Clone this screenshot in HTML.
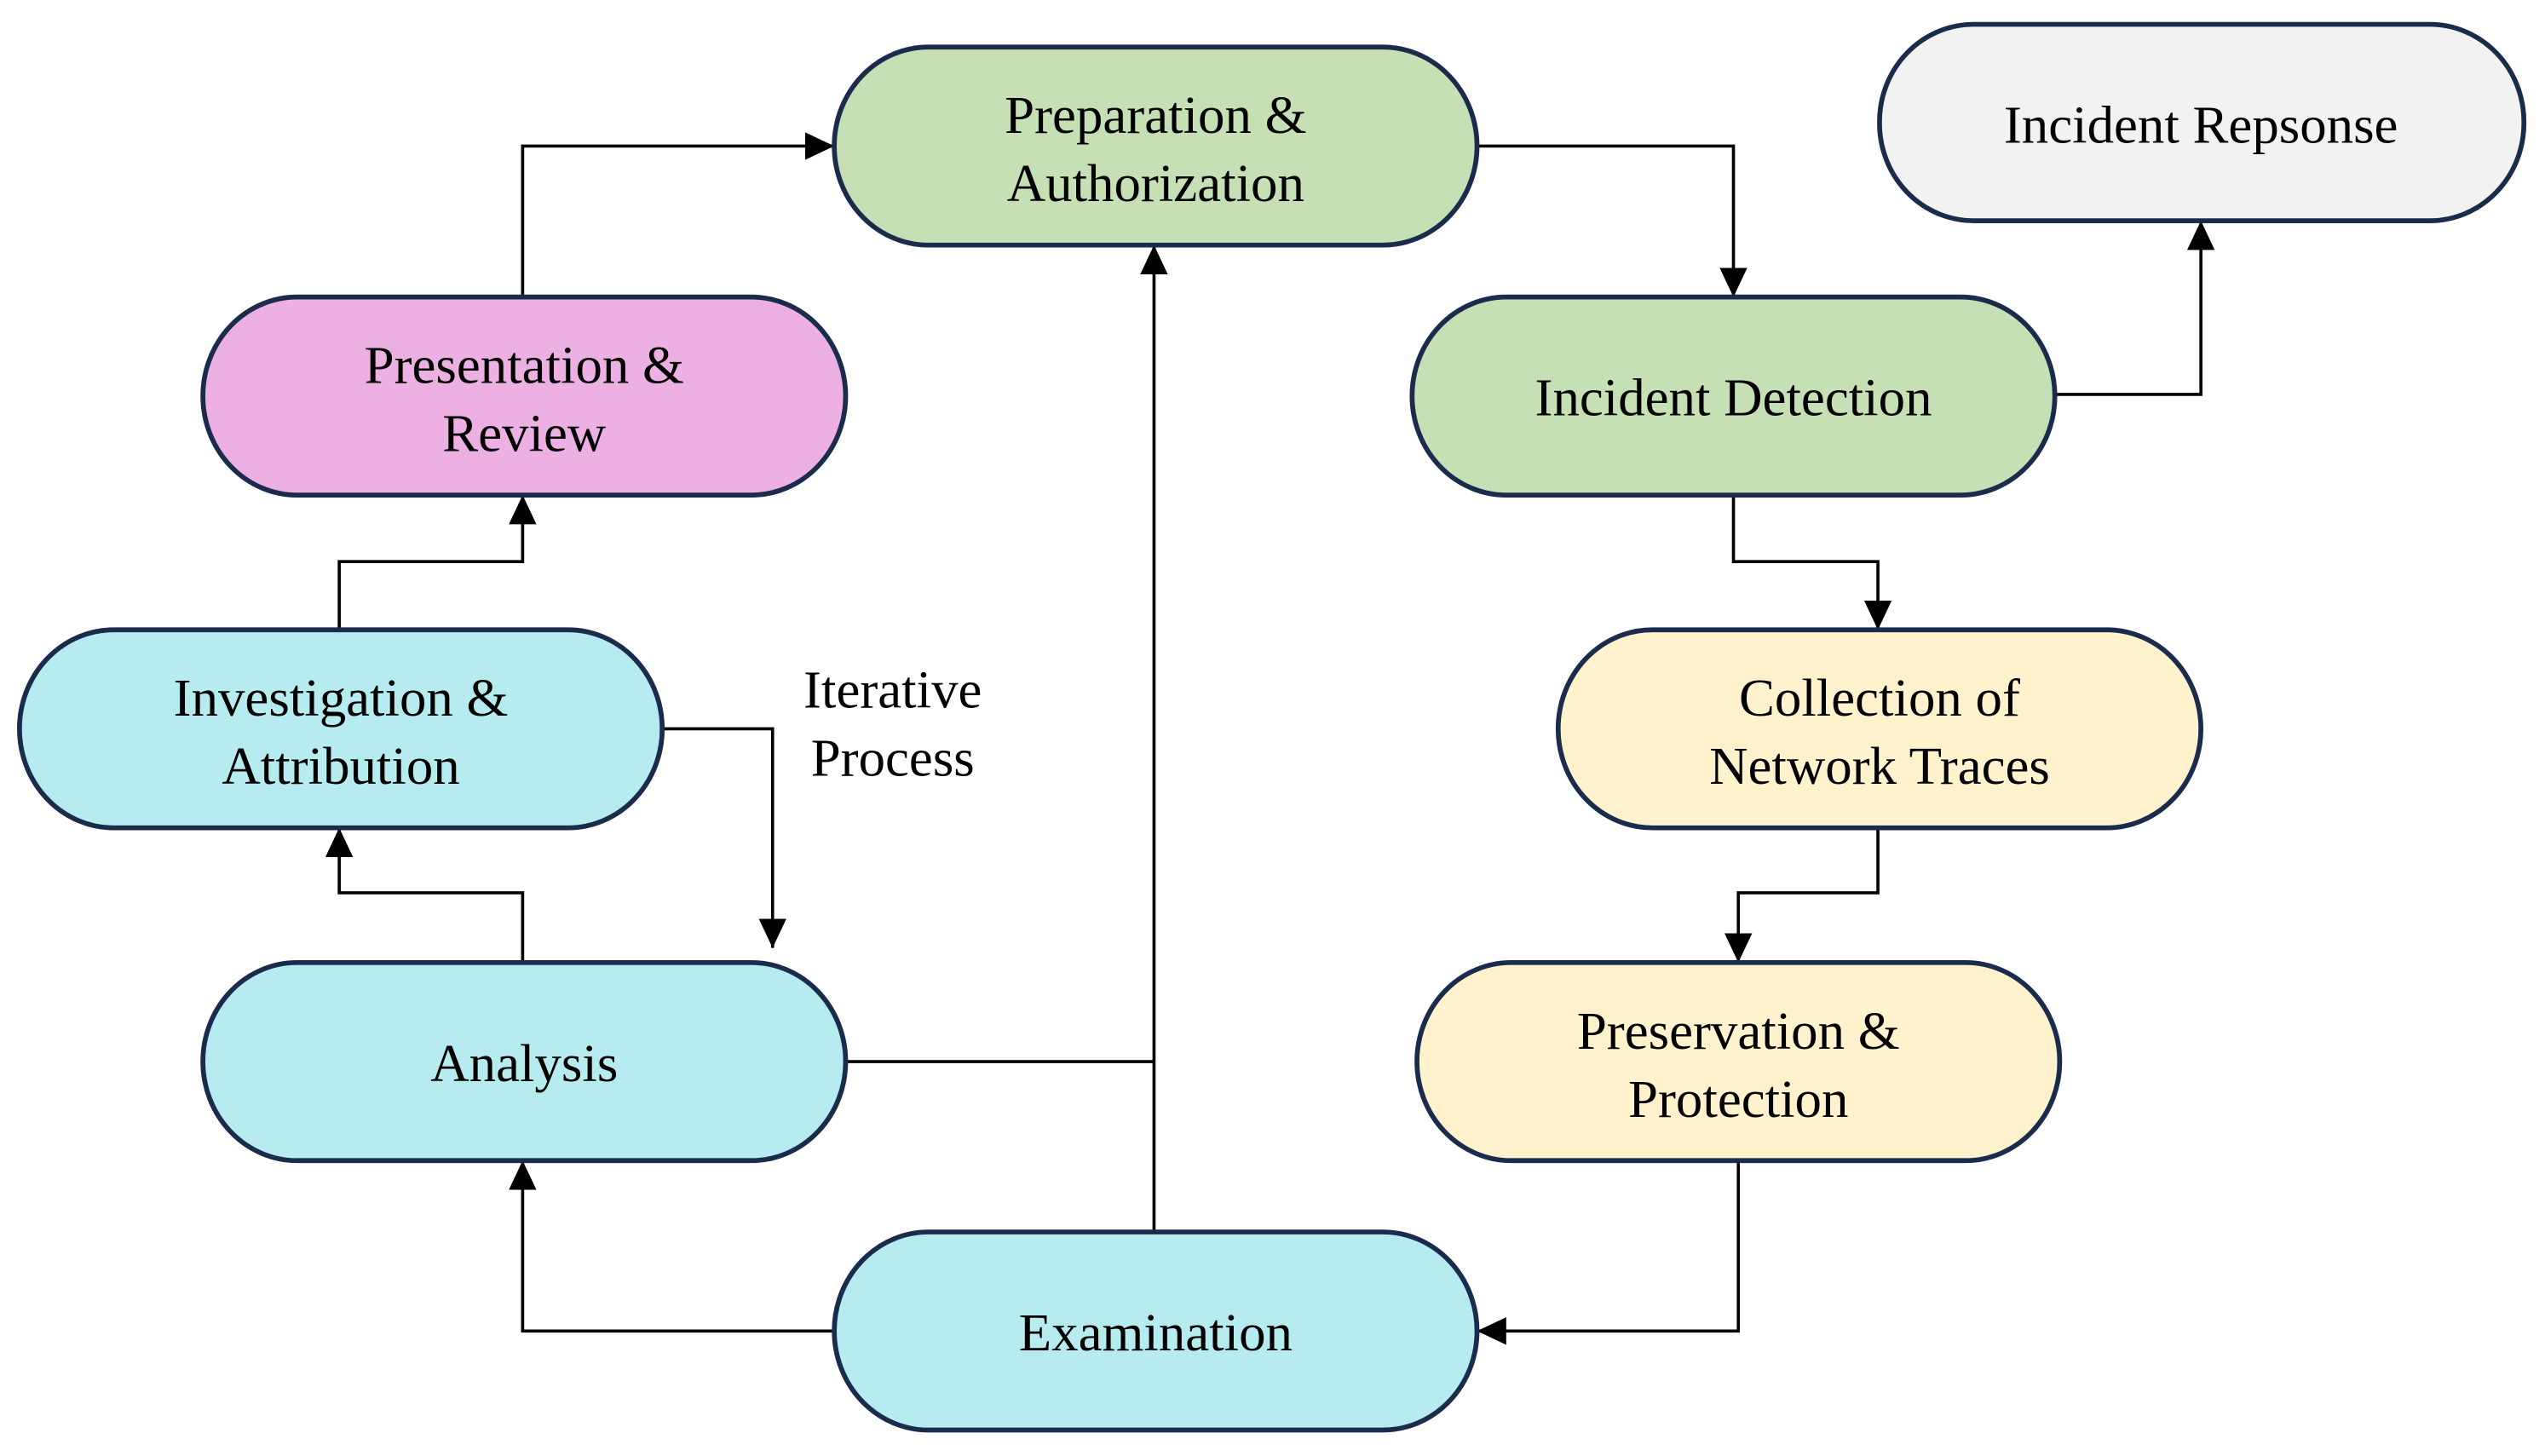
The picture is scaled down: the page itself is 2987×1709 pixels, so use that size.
<!DOCTYPE html>
<html><head><meta charset="utf-8"><style>
html,body{margin:0;padding:0;background:#fff;}
svg{display:block;}
svg text{font-family:"Liberation Serif","Times New Roman",serif;font-size:33px;fill:#000;text-anchor:middle;}
</style></head><body>
<svg width="2987" height="1709" viewBox="0 0 1568 897" preserveAspectRatio="none" xmlns="http://www.w3.org/2000/svg">
<defs>
<marker id="b" markerWidth="18" markerHeight="17" refX="18" refY="8.5" orient="auto" markerUnits="userSpaceOnUse" viewBox="0 0 18 17">
<path d="M0,0 L18,8.5 L0,17 Z" fill="#000"/>
</marker>
</defs>
<g fill="none" stroke="#000" stroke-width="1.9">
<polyline points="322,183 322,90 514,90" marker-end="url(#b)"/>
<polyline points="910,90 1068,90 1068,183" marker-end="url(#b)"/>
<polyline points="1266,243 1356,243 1356,136" marker-end="url(#b)"/>
<polyline points="1068,305 1068,346 1157,346 1157,388" marker-end="url(#b)"/>
<polyline points="1157,510 1157,550 1071,550 1071,593" marker-end="url(#b)"/>
<polyline points="1071,715 1071,820 910,820" marker-end="url(#b)"/>
<polyline points="711,759 711,151" marker-end="url(#b)"/>
<polyline points="521,654 711,654"/>
<polyline points="514,820 322,820 322,715" marker-end="url(#b)"/>
<polyline points="322,593 322,550 209,550 209,510" marker-end="url(#b)"/>
<polyline points="209,388 209,346 322,346 322,305" marker-end="url(#b)"/>
<polyline points="408,449 476,449 476,584" marker-end="url(#b)"/>
</g>
<g stroke="#1a2b4c" stroke-width="3">
<rect x="514" y="29" width="396" height="122" rx="58" ry="61" fill="#c5e0b4"/>
<rect x="1158" y="15" width="397" height="121" rx="58" ry="60" fill="#f2f2f2"/>
<rect x="125" y="183" width="396" height="122" rx="58" ry="61" fill="#ecb1e2"/>
<rect x="870" y="183" width="396" height="122" rx="58" ry="61" fill="#c5e0b4"/>
<rect x="12" y="388" width="396" height="122" rx="58" ry="61" fill="#b6ecef"/>
<rect x="960" y="388" width="396" height="122" rx="58" ry="61" fill="#fff2cc"/>
<rect x="125" y="593" width="396" height="122" rx="58" ry="61" fill="#b6ecef"/>
<rect x="873" y="593" width="396" height="122" rx="58" ry="61" fill="#fff2cc"/>
<rect x="514" y="759" width="396" height="122" rx="58" ry="61" fill="#b6ecef"/>
</g>
<g font-family="Liberation Serif, Times New Roman, serif" font-size="33">
<text x="712" y="82">Preparation &amp;</text>
<text x="712" y="124">Authorization</text>
<text x="1356" y="88">Incident Repsonse</text>
<text x="323" y="236">Presentation &amp;</text>
<text x="323" y="278">Review</text>
<text x="1068" y="256">Incident Detection</text>
<text x="210" y="441">Investigation &amp;</text>
<text x="210" y="483">Attribution</text>
<text x="1158" y="441">Collection of</text>
<text x="1158" y="483">Network Traces</text>
<text x="323" y="666">Analysis</text>
<text x="1071" y="646">Preservation &amp;</text>
<text x="1071" y="688">Protection</text>
<text x="712" y="832">Examination</text>
<text x="550" y="436">Iterative</text>
<text x="550" y="478">Process</text>
</g>
</svg>
</body></html>
